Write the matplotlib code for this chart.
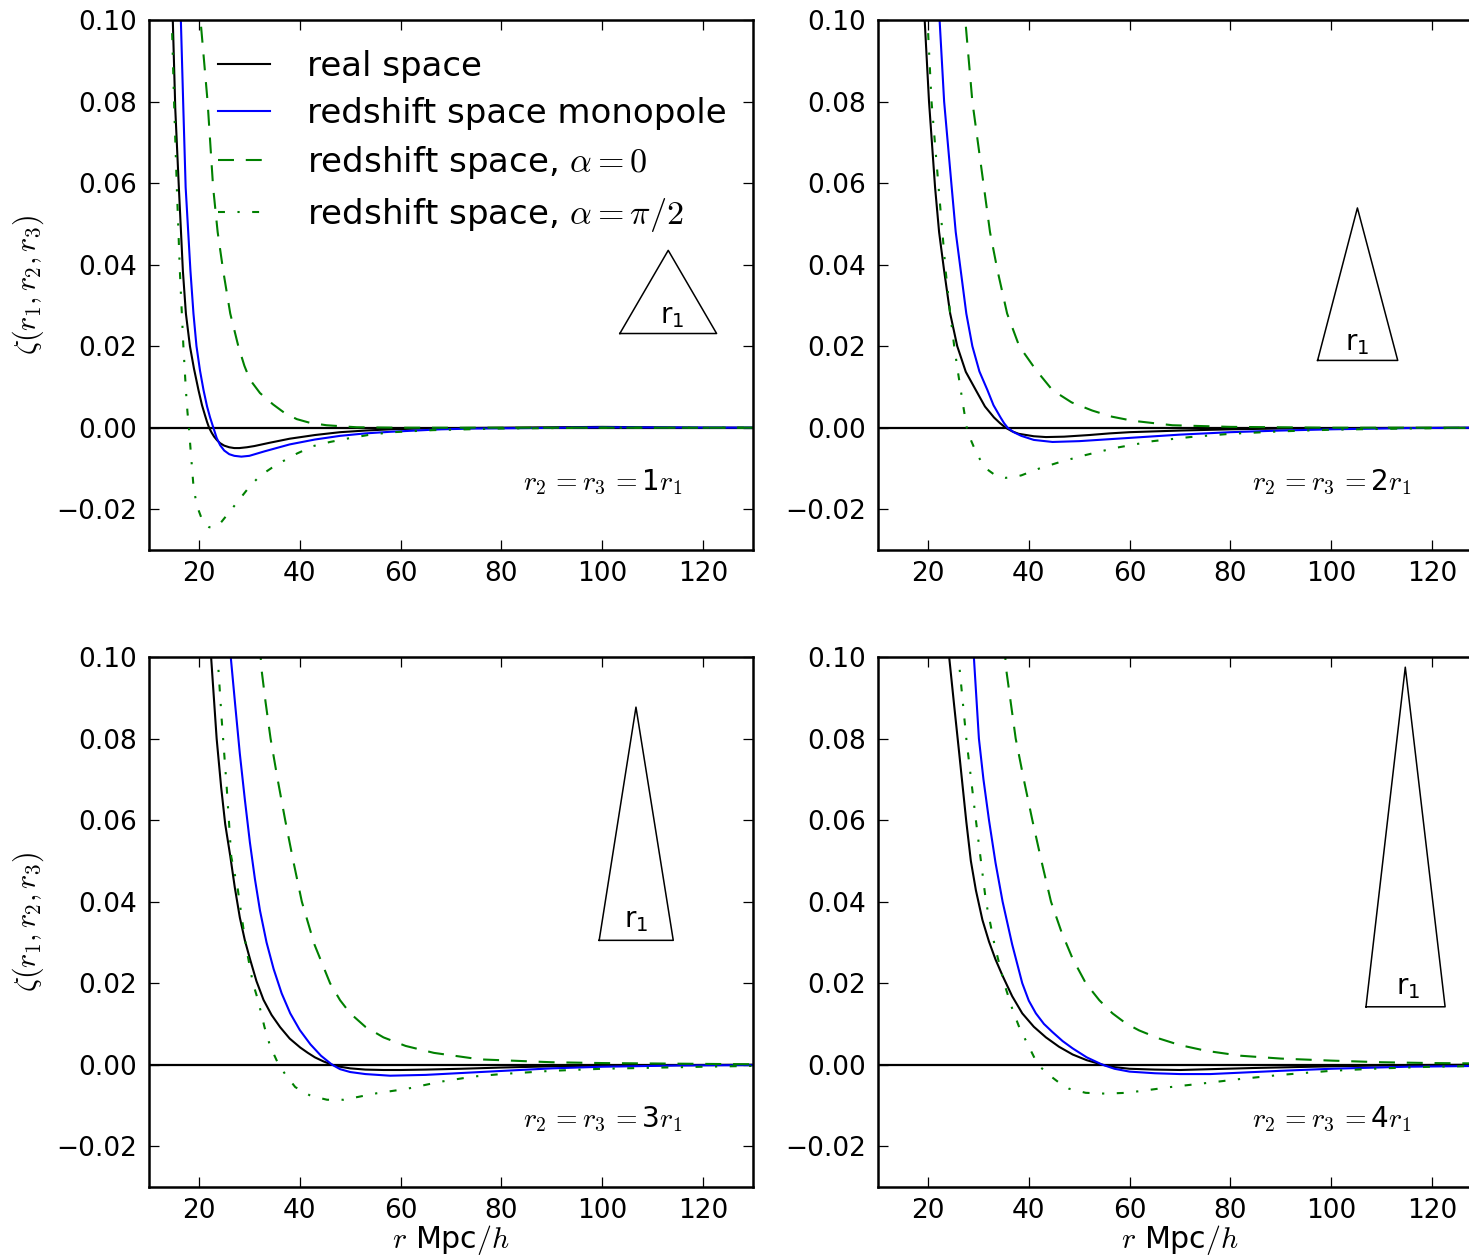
import matplotlib
matplotlib.use('Agg')
import matplotlib.pyplot as plt
from matplotlib.ticker import FuncFormatter

# three-point correlation, isosceles triangles r2 = r3 = n * r1
# each curve: r values (Mpc/h) and zeta values
real1_r = [14.3, 14.8, 15.3, 16.0, 16.8, 17.4, 18.2, 19.0, 19.9, 20.6, 21.2, 21.6, 22.0, 22.5, 23.0, 23.6, 24.2, 25.0, 26.0, 27.0, 28.0, 29.5, 31.0, 34.0, 38.0, 43.0, 48.0, 53.0, 58.0, 64.0, 70.0, 80.0, 90.0, 100.0, 110.0, 120.0, 130.0]
real1_z = [0.11, 0.100, 0.078, 0.059, 0.0385, 0.028, 0.020, 0.0145, 0.0092, 0.0055, 0.0030, 0.0014, 0.0, -0.0012, -0.0022, -0.0031, -0.0038, -0.0044, -0.0048, -0.0050, -0.0050, -0.0048, -0.0045, -0.0037, -0.0027, -0.0018, -0.0011, -0.0007, -0.0004, -0.0002, -0.0001, 0.0, 0.0001, 0.0002, 0.0001, 0.0, 0.0]
mono1_r = [16.2, 16.4, 16.9, 17.35, 18.3, 18.9, 19.5, 20.2, 20.9, 21.6, 22.2, 22.85, 23.5, 24.2, 25.0, 26.0, 27.0, 28.4, 30.0, 33.0, 38.0, 43.0, 48.0, 53.0, 58.0, 63.0, 68.0, 75.0, 85.0, 100.0, 130.0]
mono1_z = [0.11, 0.100, 0.078, 0.059, 0.0385, 0.028, 0.020, 0.0140, 0.0092, 0.0052, 0.0025, 0.0, -0.0025, -0.0043, -0.0056, -0.0065, -0.0069, -0.0071, -0.0069, -0.0058, -0.0041, -0.0029, -0.0020, -0.0014, -0.0010, -0.0007, -0.0004, -0.0002, -0.0001, 0.0001, 0.0]
par1_r = [20.1, 20.3, 21.0, 21.7, 22.8, 23.7, 24.8, 26.2, 27.8, 29.0, 30.1, 32.1, 34.7, 37.0, 39.4, 42.0, 45.3, 51.3, 60.0, 80.0, 100.0, 130.0]
par1_z = [0.11, 0.100, 0.090, 0.080, 0.059, 0.048, 0.0385, 0.028, 0.020, 0.0152, 0.0118, 0.0085, 0.0057, 0.0036, 0.0021, 0.0012, 0.0006, 0.0001, 0.0, 0.0, 0.0, 0.0]
perp1_r = [14.4, 14.6, 15.1, 15.6, 16.2, 16.9, 17.4, 17.7, 18.0, 18.4, 18.9, 19.4, 19.9, 20.5, 21.2, 22.0, 22.5, 23.2, 24.0, 25.5, 27.5, 30.0, 32.1, 34.5, 36.7, 39.5, 42.7, 46.0, 49.3, 54.0, 58.5, 66.4, 80.0, 100.0, 130.0]
perp1_z = [0.11, 0.100, 0.078, 0.059, 0.0385, 0.020, 0.0092, 0.0040, 0.0, -0.0065, -0.0143, -0.0180, -0.0202, -0.0222, -0.0236, -0.0244, -0.0245, -0.0243, -0.0238, -0.0215, -0.0184, -0.0145, -0.0118, -0.0098, -0.0082, -0.0063, -0.0045, -0.0035, -0.0027, -0.0017, -0.0011, -0.0006, -0.0002, 0.0, 0.0]

real2_r = [19.1, 19.34, 20.2, 21.4, 22.2, 23.2, 24.4, 25.8, 27.5, 29.5, 31.3, 33.1, 34.3, 35.4, 36.7, 38.0, 41.0, 43.4, 47.0, 52.0, 56.0, 60.0, 70.0, 80.0, 90.0, 100.0, 130.0]
real2_z = [0.11, 0.100, 0.080, 0.059, 0.048, 0.0385, 0.028, 0.020, 0.0137, 0.0092, 0.0052, 0.0025, 0.0011, 0.0, -0.0009, -0.0015, -0.0021, -0.0023, -0.0022, -0.0018, -0.0014, -0.0011, -0.0007, -0.0004, -0.0002, -0.0001, 0.0]
mono2_r = [22.1, 22.3, 23.2, 24.7, 25.5, 26.5, 27.6, 28.8, 30.2, 31.8, 33.0, 34.4, 35.1, 35.8, 37.0, 38.5, 41.0, 44.7, 50.0, 55.0, 60.0, 70.0, 80.0, 90.0, 100.0, 115.0, 130.0]
mono2_z = [0.11, 0.100, 0.080, 0.059, 0.048, 0.0385, 0.028, 0.020, 0.0138, 0.0092, 0.0055, 0.0025, 0.0011, 0.0, -0.0011, -0.0020, -0.0030, -0.0035, -0.0033, -0.0029, -0.0025, -0.0017, -0.0011, -0.0007, -0.0004, -0.0001, 0.0]
par2_r = [27.2, 27.4, 28.8, 31.1, 32.3, 33.8, 35.7, 38.1, 41.4, 44.7, 48.5, 52.6, 56.5, 60.6, 68.5, 80.0, 100.0, 130.0]
par2_z = [0.11, 0.100, 0.080, 0.059, 0.048, 0.0385, 0.028, 0.020, 0.0142, 0.0092, 0.0062, 0.0042, 0.0027, 0.0017, 0.0006, 0.0002, 0.0, 0.0]
perp2_r = [19.7, 19.9, 20.7, 22.1, 23.5, 24.4, 25.2, 25.9, 26.5, 27.1, 27.7, 28.6, 29.5, 30.5, 31.5, 33.5, 35.4, 37.0, 38.5, 42.1, 46.5, 51.3, 57.0, 64.6, 72.0, 80.0, 90.0, 100.0, 115.0, 130.0]
perp2_z = [0.11, 0.100, 0.080, 0.059, 0.0385, 0.028, 0.020, 0.014, 0.0092, 0.0045, 0.0, -0.0033, -0.0059, -0.0082, -0.0100, -0.0118, -0.0123, -0.0121, -0.0117, -0.0100, -0.0083, -0.0067, -0.0050, -0.0033, -0.0023, -0.0015, -0.0009, -0.0005, -0.0002, 0.0]

real3_r = [22.2, 22.4, 23.5, 24.4, 25.2, 26.2, 27.1, 28.1, 29.1, 30.1, 31.4, 32.8, 34.4, 36.1, 38.0, 40.1, 41.6, 43.0, 44.7, 46.4, 48.0, 50.0, 53.0, 56.6, 60.0, 65.0, 72.0, 80.0, 90.0, 100.0, 115.0, 130.0]
real3_z = [0.11, 0.100, 0.080, 0.068, 0.059, 0.0512, 0.0435, 0.0361, 0.0305, 0.026, 0.0205, 0.0159, 0.0122, 0.0092, 0.0064, 0.0042, 0.0029, 0.0018, 0.0008, 0.0, -0.0005, -0.0009, -0.0012, -0.0013, -0.0013, -0.0012, -0.0010, -0.0007, -0.0004, -0.0002, -0.0001, 0.0]
mono3_r = [26.1, 26.3, 27.2, 28.1, 29.1, 30.1, 31.1, 32.1, 33.4, 34.8, 36.4, 38.1, 40.0, 42.1, 44.2, 46.4, 48.0, 50.0, 53.0, 57.9, 65.0, 75.8, 90.0, 100.0, 115.0, 130.0]
mono3_z = [0.11, 0.100, 0.088, 0.0763, 0.065, 0.0545, 0.0455, 0.0378, 0.030, 0.0235, 0.0175, 0.0126, 0.0085, 0.0050, 0.0022, 0.0, -0.0011, -0.0018, -0.0023, -0.0027, -0.0025, -0.0018, -0.0009, -0.0005, -0.0002, -0.0001]
par3_r = [32.0, 32.3, 33.2, 34.2, 35.6, 37.1, 38.7, 40.4, 42.9, 46.0, 48.0, 50.0, 53.0, 56.6, 61.0, 66.6, 75.8, 90.0, 100.0, 120.0, 130.0]
par3_z = [0.11, 0.098, 0.089, 0.080, 0.070, 0.060, 0.050, 0.040, 0.0295, 0.020, 0.0158, 0.0126, 0.0093, 0.0067, 0.0046, 0.0029, 0.0013, 0.0006, 0.0004, 0.0002, 0.0001]
perp3_r = [23.6, 23.8, 24.5, 25.5, 26.4, 27.7, 28.5, 29.4, 30.7, 31.7, 33.0, 34.1, 35.8, 37.2, 39.1, 42.1, 45.4, 48.7, 52.0, 55.3, 61.3, 67.8, 74.5, 80.0, 90.0, 100.0, 120.0, 130.0]
perp3_z = [0.11, 0.098, 0.0847, 0.068, 0.051, 0.043, 0.036, 0.0285, 0.020, 0.0159, 0.0092, 0.0046, 0.0, -0.0025, -0.0055, -0.0076, -0.0086, -0.0086, -0.0078, -0.0070, -0.0059, -0.0042, -0.0029, -0.0023, -0.0015, -0.0010, -0.0005, -0.0003]

real4_r = [24.0, 24.2, 25.2, 26.2, 27.6, 28.5, 29.5, 30.8, 32.1, 33.4, 34.8, 36.7, 38.7, 41.0, 43.4, 46.0, 48.7, 51.5, 54.6, 57.0, 60.0, 65.0, 70.0, 76.0, 85.0, 100.0, 115.0, 130.0]
real4_z = [0.11, 0.100, 0.088, 0.0763, 0.0596, 0.050, 0.0428, 0.0355, 0.0302, 0.0258, 0.0218, 0.0168, 0.0126, 0.0093, 0.0067, 0.0044, 0.0025, 0.0011, 0.0, -0.0006, -0.0010, -0.0012, -0.0013, -0.0011, -0.0008, -0.0004, -0.0001, 0.0]
mono4_r = [28.9, 29.1, 29.6, 30.1, 31.0, 32.1, 33.4, 34.8, 36.7, 38.7, 40.0, 41.4, 43.0, 44.7, 46.7, 48.7, 51.5, 54.6, 57.0, 60.0, 65.0, 70.0, 76.0, 90.0, 100.0, 115.0, 130.0]
mono4_z = [0.11, 0.100, 0.090, 0.080, 0.070, 0.060, 0.0495, 0.040, 0.0295, 0.020, 0.0157, 0.0126, 0.0100, 0.0080, 0.0058, 0.0040, 0.0018, 0.0, -0.0010, -0.0017, -0.0021, -0.0023, -0.0023, -0.0015, -0.0010, -0.0005, -0.0003]
par4_r = [35.1, 35.4, 37.4, 39.0, 40.7, 42.5, 44.4, 46.5, 48.7, 51.3, 54.0, 56.6, 59.3, 61.9, 65.9, 70.0, 75.2, 82.0, 90.0, 100.0, 110.0, 120.0, 130.0]
par4_z = [0.11, 0.098, 0.080, 0.070, 0.060, 0.050, 0.040, 0.0325, 0.026, 0.020, 0.0158, 0.0126, 0.0101, 0.0084, 0.0064, 0.0048, 0.0034, 0.0022, 0.0015, 0.0010, 0.0006, 0.0004, 0.0003]
perp4_r = [25.9, 26.2, 27.6, 29.5, 31.5, 33.2, 35.1, 36.8, 38.1, 40.1, 41.8, 44.0, 46.0, 48.0, 51.3, 55.3, 59.3, 63.2, 68.0, 74.5, 82.0, 90.0, 100.0, 110.0, 120.0, 130.0]
perp4_z = [0.11, 0.098, 0.080, 0.060, 0.040, 0.0294, 0.020, 0.0134, 0.0092, 0.0042, 0.0, -0.0025, -0.0044, -0.0059, -0.0069, -0.0071, -0.0069, -0.0063, -0.0055, -0.0046, -0.0035, -0.0025, -0.0015, -0.0009, -0.0005, -0.0003]

ratios = [1, 2, 3, 4]
labels = ['real space', 'redshift space monopole',
          r'redshift space, $\alpha=0$', r'redshift space, $\alpha=\pi/2$']

# triangle sketches (base left, base right, apex) and r_1 label position
tri_x = [[103.5, 122.7, 113.1], [97.3, 113.2, 105.2], [99.4, 114.1, 106.7], [106.9, 122.6, 114.7]]
tri_y = [[0.0231, 0.0231, 0.0435], [0.0165, 0.0165, 0.0539], [0.0305, 0.0305, 0.0877], [0.0142, 0.0142, 0.0975]]
tri_lab = [(113.8, 0.0274), (105.2, 0.0208), (106.7, 0.0354), (115.3, 0.0190)]

curves = [
    [(real1_r, real1_z), (mono1_r, mono1_z), (par1_r, par1_z), (perp1_r, perp1_z)],
    [(real2_r, real2_z), (mono2_r, mono2_z), (par2_r, par2_z), (perp2_r, perp2_z)],
    [(real3_r, real3_z), (mono3_r, mono3_z), (par3_r, par3_z), (perp3_r, perp3_z)],
    [(real4_r, real4_z), (mono4_r, mono4_z), (par4_r, par4_z), (perp4_r, perp4_z)],
]

plt.rcParams.update({
    'font.size': 21.6,
    'xtick.labelsize': 19,
    'ytick.labelsize': 19,
    'mathtext.fontset': 'cm',
    'xtick.direction': 'in',
    'ytick.direction': 'in',
    'xtick.top': True,
    'ytick.right': True,
    'xtick.major.size': 7,
    'ytick.major.size': 7,
    'xtick.major.width': 0.9,
    'ytick.major.width': 0.9,
    'xtick.major.pad': 8,
    'ytick.major.pad': 8,
    'axes.linewidth': 1.8,
    'lines.scale_dashes': False,
})

styles = [dict(color='k', ls='-'),
          dict(color='b', ls='-'),
          dict(color='g', ls=(0, (11.5, 8.5))),
          dict(color='g', ls=(0, (5.0, 9.0, 1.6, 9.0)))]

yfmt = FuncFormatter(lambda v, p: ('%.2f' % v).replace('-', '\u2212'))

W, H = 1469, 1258
fig = plt.figure(figsize=(W / 100, H / 100), dpi=100)
aw, ah = 604.8, 530
lefts = [148.6, 877.6, 148.6, 877.6]
tops = [20, 20, 657, 657]

for i in range(4):
    ax = fig.add_axes([lefts[i] / W, (H - tops[i] - ah) / H, aw / W, ah / H])
    ax.axhline(0, color='k', lw=1.6)
    for (r, z), st, lab in zip(curves[i], styles, labels):
        ax.plot(r, z, lw=1.5, label=lab, **st)
    ax.set_xlim(10, 130)
    ax.set_ylim(-0.03, 0.10)
    ax.set_xticks([20, 40, 60, 80, 100, 120])
    ax.set_yticks([-0.02, 0.0, 0.02, 0.04, 0.06, 0.08, 0.10])
    ax.yaxis.set_major_formatter(yfmt)

    tx, ty = tri_x[i], tri_y[i]
    ax.plot(tx + [tx[0]], ty + [ty[0]], color='k', lw=1.1)
    ax.text(tri_lab[i][0], tri_lab[i][1], r'r$_1$', math_fontfamily='dejavusans',
            fontsize=20, ha='center', va='center')
    ax.text(100, -0.0135, r'$r_2\,{=}r_3\,{=}$' + str(ratios[i]) + r'$r_1$',
            fontsize=20, ha='center', va='center')

    if i % 2 == 0:
        ax.set_ylabel(r'$\zeta(r_1,r_2,r_3)$')
        ax.yaxis.set_label_coords(-0.169, 0.5)
    if i >= 2:
        ax.set_xlabel(r'$r$ Mpc$/h$')
        ax.xaxis.set_label_coords(0.5, -0.068)
    if i == 0:
        ax.legend(loc='upper left', bbox_to_anchor=(0.1148, 0.944), frameon=False,
                  fontsize=24.5, borderpad=0, borderaxespad=0, handlelength=1.53,
                  handletextpad=1.09, labelspacing=0.42)

fig.savefig('out.png', dpi=100)
